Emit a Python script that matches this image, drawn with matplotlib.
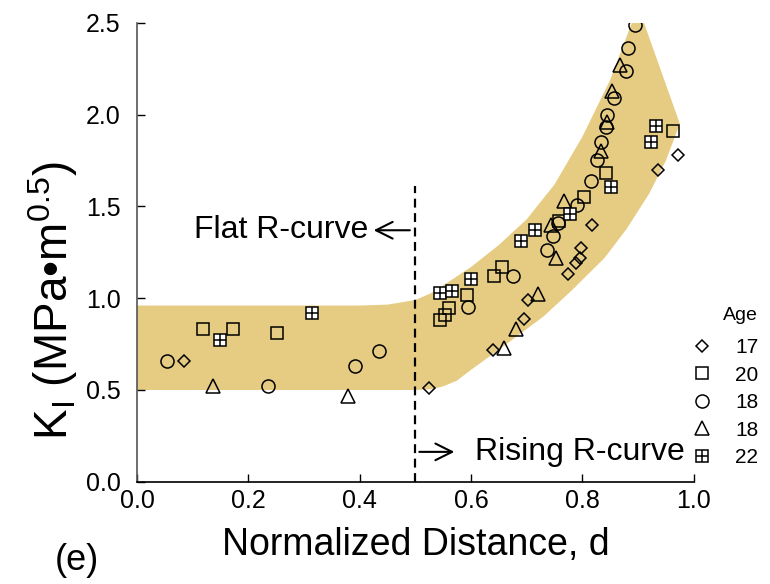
import numpy as np
import matplotlib
matplotlib.use('Agg')
from matplotlib import pyplot as plt
from matplotlib.lines import Line2D

plt.rcParams['font.family'] = ['Liberation Sans', 'DejaVu Sans']
plt.rcParams['mathtext.fontset'] = 'custom'
plt.rcParams['mathtext.rm'] = 'Liberation Sans'

# shaded band (upper edge left->right, then lower edge right->left)
band_x = [0.0, 0.40, 0.45, 0.50, 0.53, 0.56, 0.60, 0.65, 0.70, 0.75, 0.80, 0.85, 0.90,
          0.975, 0.95, 0.92, 0.88, 0.84, 0.78, 0.73, 0.65, 0.60, 0.574, 0.55, 0.53, 0.50, 0.0]
band_y = [0.96, 0.96, 0.965, 0.99, 1.03, 1.09, 1.17, 1.29, 1.43, 1.62, 1.88, 2.19, 2.59,
          1.95, 1.75, 1.57, 1.38, 1.22, 1.04, 0.90, 0.72, 0.61, 0.55, 0.52, 0.505, 0.50, 0.50]

# age 17 (diamond)
d17 = [0.085, 0.525, 0.640, 0.695, 0.703, 0.774, 0.789, 0.795, 0.797, 0.818, 0.936, 0.972]
k17 = [0.66, 0.51, 0.72, 0.885, 0.99, 1.13, 1.19, 1.22, 1.275, 1.40, 1.70, 1.78]
# age 20 (square)
d20 = [0.118, 0.172, 0.251, 0.544, 0.553, 0.560, 0.592, 0.641, 0.656, 0.758, 0.802, 0.842, 0.962]
k20 = [0.83, 0.83, 0.81, 0.88, 0.91, 0.945, 1.02, 1.12, 1.17, 1.42, 1.55, 1.68, 1.91]
# age 18 (circle)
d18a = [0.054, 0.235, 0.391, 0.435, 0.594, 0.676, 0.736, 0.747, 0.756, 0.791, 0.815, 0.826,
        0.834, 0.842, 0.844, 0.856, 0.878, 0.882, 0.895]
k18a = [0.66, 0.52, 0.63, 0.71, 0.95, 1.12, 1.265, 1.34, 1.41, 1.51, 1.64, 1.75,
        1.85, 1.93, 2.00, 2.09, 2.24, 2.36, 2.49]
# age 18 (triangle)
d18b = [0.136, 0.379, 0.659, 0.681, 0.720, 0.752, 0.744, 0.767, 0.834, 0.845, 0.854, 0.867]
k18b = [0.52, 0.47, 0.73, 0.83, 1.025, 1.22, 1.40, 1.53, 1.80, 1.96, 2.13, 2.27]
# age 22 (grid square)
d22 = [0.149, 0.315, 0.545, 0.566, 0.599, 0.689, 0.715, 0.777, 0.852, 0.923, 0.932]
k22 = [0.77, 0.92, 1.03, 1.04, 1.105, 1.31, 1.37, 1.46, 1.605, 1.85, 1.94]

fig = plt.figure(figsize=(7.7, 5.84), dpi=100)
ax = fig.add_axes([0.178, 0.175, 0.723, 0.786])

ax.fill(band_x, band_y, color='#E6CB82', lw=0, zorder=1)

mk = dict(ls='none', mfc='none', mec='black', mew=1.1, zorder=3)
ax.plot(d17, k17, marker='D', ms=6.5, label='17', **mk)
ax.plot(d20, k20, marker='s', ms=9.2, label='20', **mk)
ax.plot(d18a, k18a, marker='o', ms=9.4, label='18', **mk)
ax.plot(d18b, k18b, marker='^', ms=9.4, label='18', **mk)
gk = dict(ls='none', mfc='white', mec='black', mew=1.1, zorder=3)
ax.plot(d22, k22, marker='s', ms=9.2, **gk)
ax.plot(d22, k22, marker='+', ms=9.2, ls='none', mec='black', mew=1.1, zorder=4)

# legend handle for the grid marker
h, l = ax.get_legend_handles_labels()
grid_a = Line2D([], [], marker='s', ms=9.2, **gk)
grid_b = Line2D([], [], marker='+', ms=9.2, ls='none', mec='black', mew=1.1)
h.append((grid_a, grid_b))
l.append('22')
leg = fig.legend(h, l, loc='upper left', bbox_to_anchor=(0.895, 0.421),
                 frameon=False, fontsize=15, handletextpad=1.0,
                 labelspacing=0.41, handlelength=1.2, borderpad=0, borderaxespad=0)
fig.text(0.984, 0.46, 'Age', fontsize=14, ha='right', va='center')

# R-curve boundary
ax.plot([0.5, 0.5], [0, 1.61], ls=(0, (4, 2.5)), color='black', lw=1.6, zorder=2)
ax.text(0.415, 1.37, 'Flat R-curve', ha='right', va='center', fontsize=23)
ax.annotate('', xy=(0.42, 1.37), xytext=(0.495, 1.37),
            arrowprops=dict(arrowstyle='->', lw=1.5, mutation_scale=30, color='black'))
ax.text(0.607, 0.163, 'Rising R-curve', ha='left', va='center', fontsize=23)
ax.annotate('', xy=(0.575, 0.163), xytext=(0.502, 0.163),
            arrowprops=dict(arrowstyle='->', lw=1.5, mutation_scale=30, color='black'))

ax.set_xlim(0, 1.0)
ax.set_ylim(0, 2.5)
ax.set_xticks(np.arange(0, 1.01, 0.2))
ax.set_yticks(np.arange(0, 2.51, 0.5))
ax.xaxis.set_major_formatter(matplotlib.ticker.FormatStrFormatter('%.1f'))
ax.yaxis.set_major_formatter(matplotlib.ticker.FormatStrFormatter('%.1f'))
ax.tick_params(direction='in', length=6, width=1, labelsize=18, color='black')
ax.tick_params(axis='y', pad=12)
ax.tick_params(axis='x', pad=5)
for s in ['top', 'right']:
    ax.spines[s].set_visible(False)
ax.spines['left'].set_color('#555555')
ax.spines['bottom'].set_color('black')
ax.spines['left'].set_linewidth(1.2)
ax.spines['bottom'].set_linewidth(1.2)

ax.set_xlabel('Normalized Distance, d', fontsize=27, labelpad=10)
ax.set_ylabel(r'K$_\mathregular{I}$ (MPa•m$^\mathregular{0.5}$)', fontsize=33)
ax.yaxis.set_label_coords(-0.102, 0.395)
fig.text(0.1, 0.041, '(e)', fontsize=26, ha='center', va='center')

plt.savefig('out.png', dpi=100)
